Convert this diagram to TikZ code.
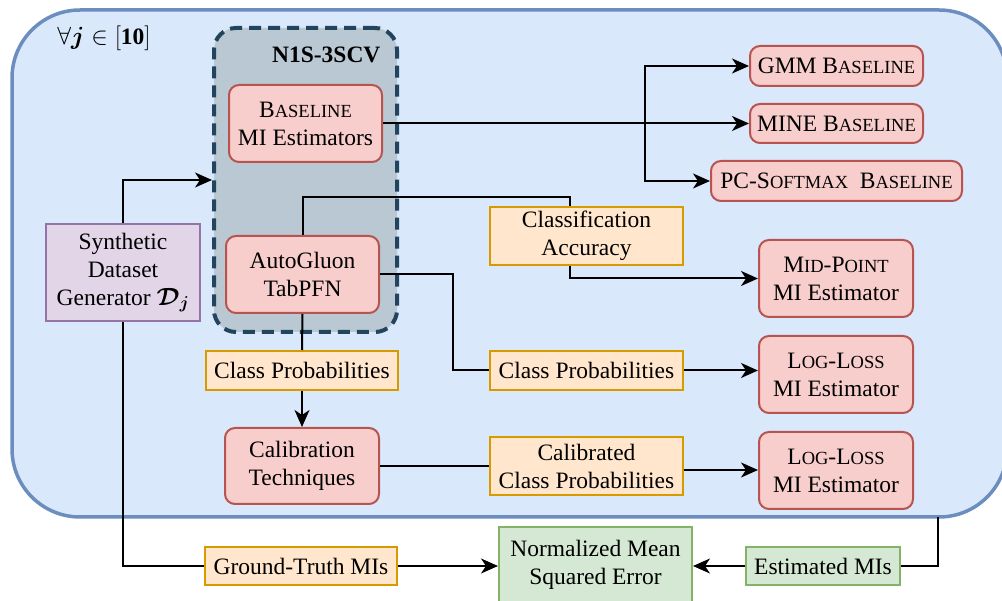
\documentclass[tikz,border=0pt]{standalone}
\usepackage{fontspec}
\setmainfont{Liberation Serif}
\usepackage{amsmath,bm}
\usetikzlibrary{arrows.meta}
\definecolor{bgfill}{HTML}{DAE8FC}\definecolor{bgdraw}{HTML}{6C8EBF}
\definecolor{gfill}{HTML}{BAC8D3}\definecolor{gdraw}{HTML}{23445D}
\definecolor{rfill}{HTML}{F8CECC}\definecolor{rdraw}{HTML}{B85450}
\definecolor{ofill}{HTML}{FFE6CC}\definecolor{odraw}{HTML}{D79B00}
\definecolor{pfill}{HTML}{E1D5E7}\definecolor{pdraw}{HTML}{9673A6}
\definecolor{grfill}{HTML}{D5E8D4}\definecolor{grdraw}{HTML}{82B366}
\newcommand\smc[1]{{\fontsize{18.5}{28}\selectfont #1}}
\tikzset{
  box/.style={inner sep=0pt, align=center, line width=2pt, font=\fontsize{23.5}{28}\selectfont},
  redbox/.style={box, rounded corners=10pt, fill=rfill, draw=rdraw},
  orabox/.style={box, fill=ofill, draw=odraw},
  grnbox/.style={box, fill=grfill, draw=grdraw},
  purbox/.style={box, fill=pfill, draw=pdraw},
  conn/.style={line width=2pt, draw=black},
  arr/.style={conn, -{Stealth[length=17pt,width=15pt,inset=5pt]}}
}
\begin{document}
\begin{tikzpicture}[x=1pt,y=-1pt]
\useasboundingbox (0,0) rectangle (1002,601);
\begin{scope}
\clip (0,0) rectangle (1002,601);
\draw[fill=bgfill, draw=bgdraw, line width=3.5pt, rounded corners=68pt] (12,10) rectangle (1007,517);
\end{scope}
\coordinate (ob) at (938,517);
\node[font=\fontsize{23.5}{28}\selectfont] (forall) at (104,38) {$\forall\bm{j}\in[\mathbf{10}]$};
\node[draw=gdraw, fill=gfill, line width=4pt, dash pattern=on 12pt off 7pt, rounded corners=22pt, minimum width=183pt, minimum height=304pt, inner sep=0pt] (dash) at (305.5,180) {};
\node[anchor=east, font=\bfseries\fontsize{23.5}{28}\selectfont] (n1s) at (384,55) {N1S-3SCV};
\node[redbox, minimum width=153pt, minimum height=77pt] (base) at (305.5,123.5) {B\smc{ASELINE}\\MI Estimators};
\node[redbox, minimum width=153pt, minimum height=77pt] (auto) at (302.5,274.5) {AutoGluon\\TabPFN};
\node[purbox, minimum width=154pt, minimum height=97pt] (gen) at (123,272.5) {Synthetic\\Dataset\\Generator $\bm{\mathcal{D}_j}$};
\node[redbox, minimum width=173pt, minimum height=40pt] (gmm) at (836.5,66) {GMM B\smc{ASELINE}};
\node[redbox, minimum width=173pt, minimum height=39pt] (mine) at (836.5,123.5) {MINE B\smc{ASELINE}};
\node[redbox, minimum width=251pt, minimum height=40pt] (pcs) at (836.5,181) {PC-S\smc{OFTMAX}\ \ B\smc{ASELINE}};
\node[orabox, minimum width=193pt, minimum height=58pt] (acc) at (586.5,236) {Classification\\Accuracy};
\node[redbox, minimum width=154pt, minimum height=77pt] (mid) at (836,278.5) {M\smc{ID}-P\smc{OINT}\\MI Estimator};
\node[orabox, minimum width=192pt, minimum height=39pt] (cpl) at (302,370.5) {Class Probabilities};
\node[orabox, minimum width=193pt, minimum height=39pt] (cpr) at (586.5,370.5) {Class Probabilities};
\node[redbox, minimum width=154pt, minimum height=77pt] (ll1) at (836,374.5) {L\smc{OG}-L\smc{OSS}\\MI Estimator};
\node[redbox, minimum width=154pt, minimum height=76pt] (cal) at (302,466) {Calibration\\Techniques};
\node[orabox, minimum width=193pt, minimum height=58pt] (ccp) at (586.5,466) {Calibrated\\Class Probabilities};
\node[redbox, minimum width=154pt, minimum height=77pt] (ll2) at (836,470.5) {L\smc{OG}-L\smc{OSS}\\MI Estimator};
\node[orabox, minimum width=192pt, minimum height=38pt] (gt) at (301,566) {Ground-Truth MIs};
\node[grnbox, minimum width=193pt, minimum height=76pt] (nmse) at (595.5,565) {Normalized Mean\\Squared Error};
\node[grnbox, minimum width=154pt, minimum height=38pt] (est) at (823,566) {Estimated MIs};
\coordinate (br) at (645,123.5);
\coordinate (ccpe) at ([yshift=-4pt]ccp.east);
\coordinate (accn) at ([xshift=-16.5pt]acc.north);
\coordinate (accs) at ([xshift=-16.5pt]acc.south);
\draw[arr] (base.east) -- (mine.west);
\draw[arr] (br) |- (gmm.west);
\draw[arr] (br) |- (pcs.west);
\draw[arr] (gen.north) |- (dash.west);
\draw[conn] (auto.north) -- ++(0,-38) -| (accn);
\draw[arr] (accs) |- (mid.west);
\draw[conn] (auto.east) -- ++(73,0) |- (cpr.west);
\draw[arr] (cpr.east) -- (cpr.east -| ll1.west);
\draw[conn] (auto.south) -- (cpl.north);
\draw[arr] (cpl.south) -- (cal.north);
\draw[conn] (cal.east) -- (ccp.west);
\draw[arr] (ccpe) -- (ccpe -| ll2.west);
\draw[conn] (gen.south) |- (gt.west);
\draw[arr] (gt.east) -- (gt.east -| nmse.west);
\draw[conn] (ob) |- (est.east);
\draw[arr] (est.west) -- (est.west -| nmse.east);
\end{tikzpicture}
\end{document}
